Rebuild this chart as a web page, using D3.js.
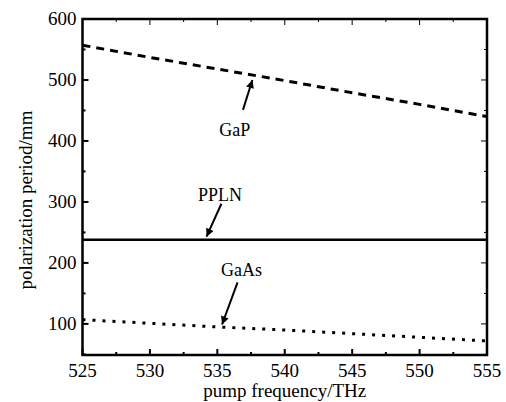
<!DOCTYPE html>
<html>
<head>
<meta charset="utf-8">
<script src="https://cdn.jsdelivr.net/npm/d3@7"></script>
<style>
  body { margin: 0; background: #fff; }
  svg text { font-family: "Liberation Serif", "Times New Roman", serif; }
</style>
</head>
<body>
<div id="chart"></div>
<script>
// pump frequency (THz) sample points
var freq = [525, 530, 535, 540, 545, 550, 555]
// polarization period values
var gap = [557, 537, 518, 499, 479, 460, 440]
var ppln = [238, 238, 238, 238, 238, 238, 238]
var gaas = [107, 101, 95, 90, 84, 78, 72]

var xTicks = [525, 530, 535, 540, 545, 550, 555]
var yTicks = [100, 200, 300, 400, 500, 600]

var margin = {top: 19, right: 19, bottom: 47, left: 82.5},
    width = 506 - margin.left - margin.right,
    height = 402 - margin.top - margin.bottom;

var svg = d3.select("#chart").append("svg")
    .attr("width", 506)
    .attr("height", 402)
  .append("g")
    .attr("transform", "translate(" + margin.left + "," + margin.top + ")");

var x = d3.scaleLinear().domain([525, 555]).range([0, width])
var y = d3.scaleLinear().domain([49, 600]).range([height, 0])

/*minor and major ticks, drawn inward on all four sides*/
var xMinor = d3.range(525, 555.1, 2.5)
var yMinor = d3.range(50, 600.1, 50)

function tickGroup(cls) { return svg.append("g").attr("class", cls).attr("stroke", "#000").attr("stroke-width", 2) }

var tb = tickGroup("xticks")
xMinor.forEach(function(v) {
    var len = (v % 5 === 0) ? 6 : 3
    tb.append("line").attr("x1", x(v)).attr("x2", x(v)).attr("y1", height).attr("y2", height - len)
    tb.append("line").attr("x1", x(v)).attr("x2", x(v)).attr("y1", 0).attr("y2", len).attr("stroke-width", 1)
})
var tl = tickGroup("yticks")
yMinor.forEach(function(v) {
    var len = (v % 100 === 0) ? 6 : 3
    tl.append("line").attr("x1", 0).attr("x2", len).attr("y1", y(v)).attr("y2", y(v))
    tl.append("line").attr("x1", width).attr("x2", width - len).attr("y1", y(v)).attr("y2", y(v)).attr("stroke-width", 1)
})

// frame
svg.append("rect")
    .attr("width", width).attr("height", height)
    .attr("fill", "none").attr("stroke", "#000").attr("stroke-width", 2.5)

// tick labels
svg.selectAll(".xl").data(xTicks).enter().append("text")
    .attr("x", function(d) { return x(d) })
    .attr("y", height + 22)
    .attr("text-anchor", "middle")
    .style("font-size", "19px")
    .text(function(d) { return d })

svg.selectAll(".yl").data(yTicks).enter().append("text")
    .attr("x", -6)
    .attr("y", function(d) { return y(d) + 6 })
    .attr("text-anchor", "end")
    .style("font-size", "19px")
    .text(function(d) { return d })

// axis titles
svg.append("text")
    .attr("x", width / 2)
    .attr("y", height + 42)
    .attr("text-anchor", "middle")
    .style("font-size", "19px")
    .text("pump frequency/THz")

svg.append("text")
    .attr("transform", "translate(" + (-50.5) + "," + (height / 2 + 13) + ") rotate(-90)")
    .attr("text-anchor", "middle")
    .style("font-size", "19px")
    .text("polarization period/mm")

var line = d3.line().x(function(d, i) { return x(freq[i]) }).y(function(d) { return y(d) })

svg.append("path").datum(gap)
    .attr("d", line).attr("fill", "none").attr("stroke", "#000")
    .attr("stroke-width", 3).attr("stroke-dasharray", "8,6")

svg.append("path").datum(ppln)
    .attr("d", line).attr("fill", "none").attr("stroke", "#000")
    .attr("stroke-width", 2.5)

svg.append("path").datum(gaas)
    .attr("d", line).attr("fill", "none").attr("stroke", "#000")
    .attr("stroke-width", 3).attr("stroke-dasharray", "3,7")

// arrow marker
svg.append("defs").append("marker")
    .attr("id", "arr").attr("viewBox", "0 0 10 10")
    .attr("refX", 10).attr("refY", 5)
    .attr("markerWidth", 5).attr("markerHeight", 4)
    .attr("markerUnits", "strokeWidth")
    .attr("orient", "auto")
  .append("path").attr("d", "M0,0 L10,5 L0,10 z").attr("fill", "#000")

/*annotations: label position and arrow tail/tip in data units*/
var notes = [
    {name: "GaP",  lx: 536.3, ly: 418, fx: 536.9, fy: 451, tx: 537.6, ty: 500},
    {name: "PPLN", lx: 535.2, ly: 311, fx: 535.3, fy: 297, tx: 534.2, ty: 243},
    {name: "GaAs", lx: 536.8, ly: 189, fx: 536.5, fy: 168, tx: 535.35, ty: 99}
]

notes.forEach(function(n) {
    svg.append("text")
        .attr("x", x(n.lx)).attr("y", y(n.ly) + 6)
        .attr("text-anchor", "middle")
        .style("font-size", "18px")
        .text(n.name)
    svg.append("line")
        .attr("x1", x(n.fx)).attr("y1", y(n.fy))
        .attr("x2", x(n.tx)).attr("y2", y(n.ty))
        .attr("stroke", "#000").attr("stroke-width", 2)
        .attr("marker-end", "url(#arr)")
})
</script>
</body>
</html>
